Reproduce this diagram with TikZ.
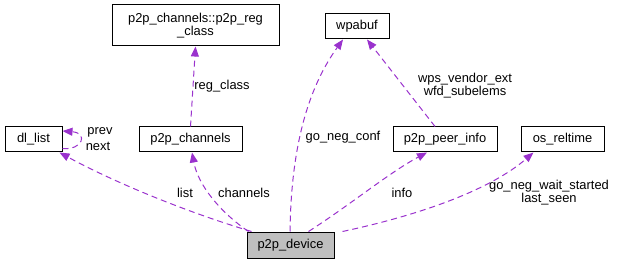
\documentclass[tikz,border=0pt]{standalone}
\usepackage{fontspec}
\setmainfont{Liberation Sans}
\usetikzlibrary{arrows.meta,calc}
\definecolor{edgecol}{HTML}{9A32CD}
\definecolor{focusfill}{HTML}{BFBFBF}
\begin{document}
\begin{tikzpicture}[x=1pt,y=-1pt,
  every node/.style={font=\fontsize{12.9}{13.5}\selectfont, inner sep=0pt},
  cls/.style={draw=black, line width=1pt, fill=white, minimum height=25pt, align=center},
  edge/.style={draw=edgecol, line width=1pt, dash pattern=on 6pt off 4pt,
    -{Triangle[length=10pt,width=8pt,fill=edgecol]}},
  lbl/.style={align=center, text=black}]
  \useasboundingbox (0,0) rectangle (617,264);

  % class boxes
  \node[cls, minimum width=57pt] (dl) at (33.5,139.5) {dl\_list};
  \node[cls, minimum width=103pt] (ch) at (190.5,139.5) {p2p\_channels};
  \node[cls, minimum width=167pt, minimum height=41pt] (rc) at (195.5,25.5)
    {p2p\_channels::p2p\_reg\\\_class};
  \node[cls, minimum width=64pt] (wb) at (357,26.5) {wpabuf};
  \node[cls, minimum width=104pt] (pi) at (445,139.5) {p2p\_peer\_info};
  \node[cls, minimum width=83pt] (rt) at (562.5,139.5) {os\_reltime};
  \node[cls, minimum width=87pt, minimum height=26pt, fill=focusfill] (dev) at (290.5,245) {p2p\_device};

  % self reference of dl_list
  \draw[edge] ($(dl.east)+(0,9)$) .. controls +(20,2) and +(26,2) .. ($(dl.east)+(0,-8.5)$);
  \node[lbl] (lprev) at (100,132) {prev};
  \node[lbl] (lnext) at (98,146.5) {next};

  % members of p2p_device
  \draw[edge] ($(dev.north west)+(5,0)$) .. controls (180,210) and (110,180) .. ($(dl.south east)+(-3,0)$);
  \node[lbl] (llist) at (185,192.5) {list};

  \draw[edge] ($(dev.north west)+(2,0)$) .. controls (220,212) and (198,185) .. ($(ch.south)+(1.5,0)$);
  \node[lbl] (lch) at (244,192.5) {channels};

  \draw[edge] (ch.north) -- (rc.south);
  \node[lbl] (lrc) at (222,86) {reg\_class};

  \draw[edge] ($(dev.north)+(-0.5,0)$) .. controls (291,160) and (303,95) .. ($(wb.south)+(-14,0)$);
  \node[lbl] (lgnc) at (343,137.5) {go\_neg\_conf};

  \draw[edge] ($(pi.north)+(-10,0)$) -- ($(wb.south)+(10,0)$);
  \node[lbl] (lwps) at (465,85.5) {wps\_vendor\_ext\\wfd\_subelems};

  \draw[edge] ($(dev.north)+(18,0)$) .. controls (350,205) and (390,172) .. ($(pi.south)+(-18,0)$);
  \node[lbl] (linfo) at (402,192.5) {info};

  \draw[edge] ($(dev.north east)+(8,0)$) .. controls (420,215) and (490,190) .. ($(rt.south)+(-29,0)$);
  \node[lbl] (lrt) at (549,192.5) {go\_neg\_wait\_started\\last\_seen};
\end{tikzpicture}
\end{document}
